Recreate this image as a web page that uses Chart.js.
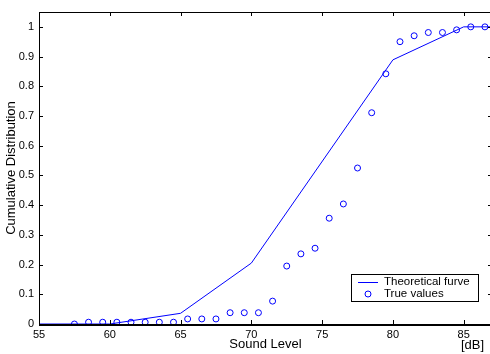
<!DOCTYPE html>
<html>
<head>
<meta charset="utf-8">
<script src="https://cdn.jsdelivr.net/npm/chart.js@4/dist/chart.umd.min.js"></script>
<style>
  html, body { margin: 0; padding: 0; background: #fff; overflow: hidden; }
  #wrap { width: 490px; height: 354px; overflow: hidden; }
</style>
</head>
<body>
<div id="wrap"><canvas id="cdfChart" width="497" height="354"></canvas></div>
<script>
// measured points (half dB bins)
var soundLevels = [57.5, 58.5, 59.5, 60.5, 61.5, 62.5, 63.5, 64.5, 65.5, 66.5, 67.5, 68.5, 69.5, 70.5, 71.5,
  72.5, 73.5, 74.5, 75.5, 76.5, 77.5, 78.5, 79.5, 80.5, 81.5, 82.5, 83.5, 84.5, 85.5, 86.5];
var trueValues = [0, 0.006, 0.006, 0.006, 0.006, 0.006, 0.006, 0.006, 0.017, 0.017, 0.017, 0.038, 0.038, 0.038, 0.077,
  0.195, 0.236, 0.255, 0.356, 0.404, 0.525, 0.711, 0.842, 0.95, 0.97, 0.981, 0.981, 0.99, 1, 1];

// theoretical curve
var theoryLevels = [55, 60, 65, 70, 80, 85, 90];
var theoryValues = [0, 0, 0.036, 0.205, 0.889, 1, 1];

var xTicks = [55, 60, 65, 70, 75, 80, 85];
var yTicks = [0, 0.1, 0.2, 0.3, 0.4, 0.5, 0.6, 0.7, 0.8, 0.9, 1];

var fontFamily = '"Liberation Sans", Arial, sans-serif';
var blue = '#0000ff';

function toPoints(xs, ys) {
  return xs.map(function (x, i) { return { x: x, y: ys[i] }; });
}

// matlab-like box, inward ticks, legend and unit label
var boxPlugin = {
  id: 'boxPlugin',
  afterDraw: function (chart) {
    var ctx = chart.ctx;
    var a = chart.chartArea;
    var xs = chart.scales.x, ys = chart.scales.y;
    var len = 4;
    ctx.save();
    ctx.strokeStyle = '#000';
    ctx.lineWidth = 1;
    ctx.strokeRect(a.left + 0.5, a.top + 0.5, a.right - a.left, a.bottom - a.top);
    ctx.beginPath();
    xTicks.forEach(function (v) {
      var px = Math.round(xs.getPixelForValue(v)) + 0.5;
      ctx.moveTo(px, a.bottom); ctx.lineTo(px, a.bottom - len);
      ctx.moveTo(px, a.top); ctx.lineTo(px, a.top + len);
    });
    yTicks.forEach(function (v) {
      var py = Math.round(ys.getPixelForValue(v)) + 0.5;
      ctx.moveTo(a.left, py); ctx.lineTo(a.left + len, py);
      ctx.moveTo(a.right, py); ctx.lineTo(a.right - len, py);
    });
    ctx.stroke();
    // bottom axis a bit heavier
    ctx.lineWidth = 2;
    ctx.beginPath();
    ctx.moveTo(a.left, a.bottom + 1); ctx.lineTo(a.right, a.bottom + 1);
    ctx.stroke();
    ctx.lineWidth = 1;

    // legend
    var lx = 351, ly = 274, lw = 127, lh = 27;
    ctx.fillStyle = '#fff';
    ctx.fillRect(lx, ly, lw, lh);
    ctx.strokeStyle = '#000';
    ctx.strokeRect(lx + 0.5, ly + 0.5, lw, lh);
    var ds = chart.data.datasets;
    ctx.font = '11.5px ' + fontFamily;
    ctx.textBaseline = 'middle';
    ctx.textAlign = 'left';
    ctx.strokeStyle = blue;
    ctx.beginPath();
    ctx.moveTo(358, 282.5); ctx.lineTo(378, 282.5);
    ctx.stroke();
    ctx.beginPath();
    ctx.arc(368, 294, 3, 0, Math.PI * 2);
    ctx.stroke();
    ctx.fillStyle = '#000';
    ctx.fillText(ds[0].label, 384, 282);
    ctx.fillText(ds[1].label, 384, 294);

    // unit
    ctx.font = '13px ' + fontFamily;
    ctx.fillText('[dB]', 461, 345);
    ctx.restore();
  }
};

var cdfCanvas = document.getElementById('cdfChart').getContext('2d');
new Chart(cdfCanvas, {
  type: 'scatter',
  data: {
    datasets: [
      {
        label: 'Theoretical furve',
        data: toPoints(theoryLevels, theoryValues),
        showLine: true,
        pointRadius: 0,
        borderColor: blue,
        borderWidth: 1,
        fill: false
      },
      {
        label: 'True values',
        data: toPoints(soundLevels, trueValues),
        showLine: false,
        pointRadius: 3,
        pointBorderColor: blue,
        pointBackgroundColor: 'rgba(0,0,0,0)',
        pointBorderWidth: 1
      }
    ]
  },
  options: {
    responsive: false,
    animation: false,
    devicePixelRatio: 1,
    layout: { padding: { top: 12, right: 1, left: 0, bottom: 0 } },
    plugins: { legend: { display: false }, tooltip: { enabled: false } },
    scales: {
      x: {
        type: 'linear',
        min: 55,
        max: 87,
        grid: { display: false, drawTicks: false },
        border: { display: false },
        afterBuildTicks: function (scale) {
          scale.ticks = xTicks.map(function (v) { return { value: v }; });
        },
        afterFit: function (scale) {
          scale.height = 30;
          scale.paddingLeft = 0;
          scale.paddingRight = 0;
        },
        ticks: {
          color: '#000',
          padding: 4,
          maxRotation: 0,
          autoSkip: false,
          font: { family: fontFamily, size: 11 },
          callback: function (v) { return String(v); }
        },
        title: {
          display: true,
          text: 'Sound Level',
          color: '#000',
          padding: { top: 0, bottom: 2 },
          font: { family: fontFamily, size: 13 }
        }
      },
      y: {
        min: 0,
        max: 1.05,
        grid: { display: false, drawTicks: false },
        border: { display: false },
        afterBuildTicks: function (scale) {
          scale.ticks = yTicks.map(function (v) { return { value: v }; });
        },
        afterFit: function (scale) {
          scale.width = 39;
          scale.paddingTop = 0;
          scale.paddingBottom = 0;
        },
        ticks: {
          color: '#000',
          padding: 5,
          autoSkip: false,
          font: { family: fontFamily, size: 11 },
          callback: function (v) { return String(v); }
        },
        title: {
          display: true,
          text: 'Cumulative Distribution',
          color: '#000',
          padding: { top: 4, bottom: 0 },
          font: { family: fontFamily, size: 13 }
        }
      }
    }
  },
  plugins: [boxPlugin]
});
</script>
</body>
</html>
